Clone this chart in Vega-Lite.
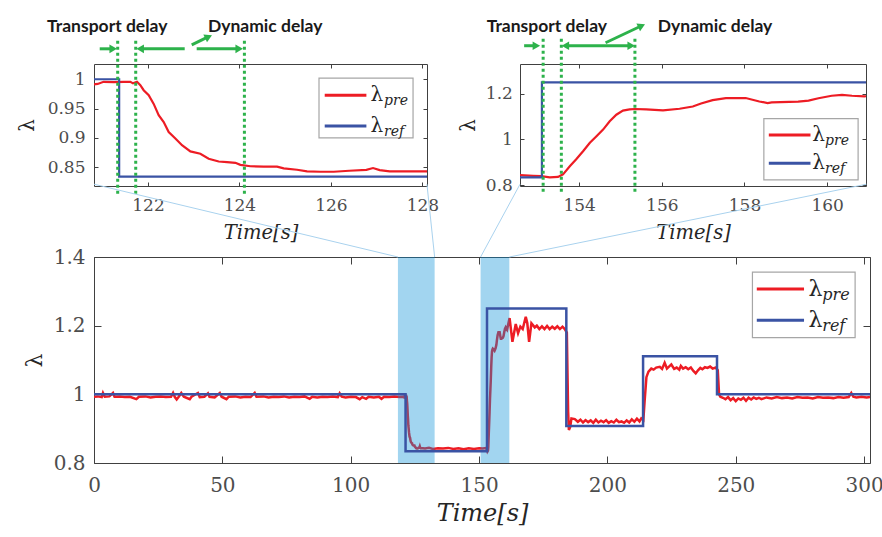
{
  "$schema": "https://vega.github.io/schema/vega-lite/v6.json",
  "background": "white",
  "padding": {"left": 16, "top": 17, "right": 2, "bottom": 2},
  "config": {
    "view": {"stroke": "#404040", "strokeWidth": 1},
    "axis": {
      "domain": false, "grid": false, "zindex": 1,
      "labelFlush": false, "labelOverlap": false,
      "tickColor": "#404040", "tickWidth": 1,
      "labelColor": "#4d4d4d", "labelFont": "DejaVu Serif", "labelFontWeight": "normal",
      "titleFont": "DejaVu Serif", "titleFontWeight": "normal", "titleColor": "#262626"
    }
  },
  "datasets": {
    "pre": [
      {"t":0,"v":0.993},{"t":1.5,"v":0.994},{"t":3,"v":0.992},{"t":3.5,"v":1.004},{"t":4.2,"v":0.993},{"t":6,"v":0.994},{"t":7.4,"v":1.004},{"t":8,"v":0.993},{"t":10,"v":0.994},{"t":12,"v":0.992},{"t":14,"v":0.993},{"t":16.5,"v":0.986},{"t":17.5,"v":0.993},{"t":20,"v":0.994},{"t":22,"v":0.991},{"t":24,"v":0.993},{"t":26,"v":0.994},{"t":28,"v":0.992},{"t":30,"v":0.993},{"t":30.8,"v":1.004},{"t":31.5,"v":0.992},{"t":32.2,"v":0.985},{"t":33,"v":0.993},{"t":34,"v":1.004},{"t":35,"v":0.993},{"t":37.3,"v":0.986},{"t":38,"v":0.993},{"t":40.5,"v":1.004},{"t":41.2,"v":0.992},{"t":43,"v":0.993},{"t":44.4,"v":1.003},{"t":45,"v":0.993},{"t":47,"v":0.991},{"t":49,"v":1.004},{"t":49.7,"v":0.993},{"t":51.6,"v":0.986},{"t":52.5,"v":0.993},{"t":55,"v":0.994},{"t":57,"v":0.991},{"t":59,"v":0.993},{"t":61,"v":0.992},{"t":62.6,"v":1.004},{"t":63.3,"v":0.993},{"t":66,"v":0.994},{"t":68,"v":0.991},{"t":70,"v":0.993},{"t":72,"v":0.992},{"t":74,"v":0.994},{"t":76,"v":0.991},{"t":78,"v":0.993},{"t":80,"v":0.992},{"t":82,"v":0.994},{"t":84,"v":0.987},{"t":85,"v":0.993},{"t":87,"v":0.991},{"t":89,"v":0.993},{"t":91,"v":0.992},{"t":93,"v":0.994},{"t":95,"v":0.992},{"t":95.7,"v":1.003},{"t":96.5,"v":0.993},{"t":98,"v":0.991},{"t":100,"v":0.993},{"t":102,"v":0.992},{"t":103.5,"v":0.986},{"t":104.5,"v":0.992},{"t":106,"v":0.987},{"t":107,"v":0.993},{"t":109,"v":0.991},{"t":111,"v":0.993},{"t":112,"v":0.987},{"t":113,"v":0.993},{"t":115,"v":0.992},{"t":117,"v":0.994},{"t":119,"v":0.992},{"t":120.2,"v":0.993},
      {"t":120.813,"v":0.991},{"t":120.9,"v":0.992},{"t":121.03,"v":0.9956},{"t":121.25,"v":0.9952},{"t":121.47,"v":0.9956},{"t":121.615,"v":0.9956},{"t":121.673,"v":0.993},{"t":121.76,"v":0.9956},{"t":121.833,"v":0.990},{"t":121.906,"v":0.9813},{"t":122.016,"v":0.9727},{"t":122.125,"v":0.958},{"t":122.234,"v":0.9387},{"t":122.344,"v":0.927},{"t":122.453,"v":0.910},{"t":122.599,"v":0.899},{"t":122.744,"v":0.8875},{"t":122.927,"v":0.877},{"t":123.145,"v":0.873},{"t":123.327,"v":0.8644},{"t":123.546,"v":0.8598},{"t":123.728,"v":0.8587},{"t":123.911,"v":0.8575},{"t":124.02,"v":0.854},{"t":124.239,"v":0.8517},{"t":124.53,"v":0.8512},{"t":124.822,"v":0.851},{"t":124.967,"v":0.848},{"t":125.259,"v":0.8457},{"t":125.478,"v":0.843},{"t":125.769,"v":0.8423},{"t":126.061,"v":0.8423},{"t":126.4,"v":0.844},{"t":126.775,"v":0.8455},{"t":126.92,"v":0.8486},{"t":127.066,"v":0.845},{"t":127.285,"v":0.843},{"t":128.1,"v":0.843},
      {"t":129,"v":0.842},{"t":130.5,"v":0.844},{"t":132,"v":0.841},{"t":134,"v":0.843},{"t":136,"v":0.842},{"t":138,"v":0.844},{"t":140,"v":0.841},{"t":142,"v":0.843},{"t":144,"v":0.84},{"t":146,"v":0.843},{"t":148,"v":0.841},{"t":150,"v":0.843},{"t":151.5,"v":0.842},
      {"t":152.57,"v":0.8435},{"t":152.89,"v":0.8406},{"t":153.08,"v":0.839},{"t":153.29,"v":0.8336},{"t":153.49,"v":0.836},{"t":153.61,"v":0.847},{"t":153.78,"v":0.8837},{"t":153.93,"v":0.913},{"t":154.1,"v":0.949},{"t":154.26,"v":0.985},{"t":154.42,"v":1.014},{"t":154.58,"v":1.043},{"t":154.74,"v":1.079},{"t":154.9,"v":1.108},{"t":155.06,"v":1.126},{"t":155.22,"v":1.131},{"t":155.35,"v":1.133},{"t":155.62,"v":1.131},{"t":156.03,"v":1.127},{"t":156.43,"v":1.134},{"t":156.75,"v":1.144},{"t":156.95,"v":1.157},{"t":157.23,"v":1.172},{"t":157.55,"v":1.181},{"t":158.03,"v":1.181},{"t":158.36,"v":1.166},{"t":158.56,"v":1.159},{"t":158.66,"v":1.162},{"t":159.3,"v":1.165},{"t":159.55,"v":1.17},{"t":159.79,"v":1.18},{"t":160.11,"v":1.191},{"t":160.36,"v":1.195},{"t":160.6,"v":1.191},{"t":160.9,"v":1.188},
      {"t":161.9,"v":1.222},{"t":163,"v":1.153},{"t":164.3,"v":1.205},{"t":165.2,"v":1.178},{"t":166.1,"v":1.197},{"t":167,"v":1.19},{"t":168.2,"v":1.226},{"t":168.8,"v":1.207},{"t":169.5,"v":1.153},{"t":170.4,"v":1.207},{"t":171.7,"v":1.195},{"t":172.5,"v":1.2},{"t":173.5,"v":1.19},{"t":174.5,"v":1.198},{"t":175.5,"v":1.19},{"t":176.5,"v":1.199},{"t":177.5,"v":1.19},{"t":178.5,"v":1.197},{"t":179.5,"v":1.191},{"t":180.5,"v":1.198},{"t":181.5,"v":1.19},{"t":182.5,"v":1.197},{"t":183.4,"v":1.19},{"t":184.2,"v":1.18},{"t":184.7,"v":0.95},{"t":185,"v":0.896},{"t":185.5,"v":0.905},{"t":186,"v":0.93},{"t":187.3,"v":0.928},{"t":188.5,"v":0.92},{"t":189.5,"v":0.926},{"t":190.5,"v":0.918},{"t":191.5,"v":0.925},{"t":192.5,"v":0.919},{"t":193.5,"v":0.924},{"t":194.5,"v":0.917},{"t":195.5,"v":0.926},{"t":196.5,"v":0.918},{"t":197.5,"v":0.923},{"t":198.5,"v":0.919},{"t":199.5,"v":0.925},{"t":200.5,"v":0.917},{"t":201.5,"v":0.922},{"t":202.5,"v":0.918},{"t":203.5,"v":0.926},{"t":204.5,"v":0.919},{"t":205.5,"v":0.921},{"t":206.5,"v":0.917},{"t":207.5,"v":0.924},{"t":208.5,"v":0.918},{"t":209.5,"v":0.927},{"t":210.5,"v":0.92},{"t":211.5,"v":0.929},{"t":212.5,"v":0.921},{"t":213.2,"v":0.93},{"t":214,"v":0.925},{"t":214.5,"v":0.98},{"t":215.2,"v":1.05},{"t":216,"v":1.066},{"t":217.1,"v":1.075},{"t":218,"v":1.072},{"t":219,"v":1.078},{"t":220.4,"v":1.08},{"t":221.3,"v":1.074},{"t":222.3,"v":1.092},{"t":223.2,"v":1.075},{"t":224.9,"v":1.087},{"t":226,"v":1.074},{"t":227,"v":1.078},{"t":228,"v":1.072},{"t":228.6,"v":1.083},{"t":229.5,"v":1.075},{"t":230.5,"v":1.079},{"t":231.5,"v":1.073},{"t":232.5,"v":1.078},{"t":233.5,"v":1.068},{"t":234.4,"v":1.061},{"t":235.3,"v":1.07},{"t":236.2,"v":1.077},{"t":237,"v":1.073},{"t":238,"v":1.079},{"t":239,"v":1.077},{"t":240,"v":1.081},{"t":241,"v":1.075},{"t":242.2,"v":1.078},{"t":243,"v":1.07},{"t":243.5,"v":1.0},
      {"t":244,"v":0.993},{"t":245,"v":0.99},{"t":246,"v":0.986},{"t":247,"v":0.992},{"t":248,"v":0.983},{"t":249,"v":0.989},{"t":250,"v":0.98},{"t":251,"v":0.988},{"t":252,"v":0.984},{"t":253,"v":0.99},{"t":254,"v":0.981},{"t":255,"v":0.99},{"t":256,"v":0.985},{"t":257,"v":0.991},{"t":258,"v":0.987},{"t":259,"v":0.99},{"t":260,"v":0.986},{"t":262,"v":0.991},{"t":264,"v":0.988},{"t":266,"v":0.992},{"t":268,"v":0.989},{"t":270,"v":0.991},{"t":272,"v":0.988},{"t":274,"v":0.992},{"t":276,"v":0.99},{"t":278,"v":0.991},{"t":280,"v":0.988},{"t":282,"v":0.992},{"t":284,"v":0.99},{"t":286,"v":0.991},{"t":288,"v":0.989},{"t":290,"v":0.992},{"t":292,"v":0.99},{"t":294,"v":0.992},{"t":295,"v":1.004},{"t":295.8,"v":0.993},{"t":297,"v":0.991},{"t":299,"v":0.993},{"t":301,"v":0.991},{"t":302.3,"v":0.992}
    ],
    "ref": [
      {"t":0,"v":1.0},{"t":121.37,"v":0.834},{"t":153.1,"v":1.25},{"t":184,"v":0.908},{"t":213.9,"v":1.111},{"t":242.7,"v":1.0},{"t":302.3,"v":1.0}
    ]
  },
  "bounds": "flush",
  "spacing": 193,
  "vconcat": [
    {
      "bounds": "flush",
      "spacing": 93,
      "hconcat": [
        {
          "width": 333, "height": 122,
          "resolve": {"axis": {"x": "independent", "y": "independent"}},
          "layer": [
            {
              "data": {"name": "pre"},
              "mark": {"type": "line", "clip": true, "color": "#ed1c24", "strokeWidth": 2.2},
              "encoding": {
                "x": {"field": "t", "type": "quantitative", "scale": {"domain": [120.82, 128.1], "nice": false, "zero": false}, "axis": {"orient": "top", "values": [122, 124, 126, 128], "labels": false, "title": null, "tickSize": -4}},
                "y": {"field": "v", "type": "quantitative", "scale": {"domain": [0.818, 1.026], "nice": false, "zero": false}, "axis": {"orient": "right", "values": [0.85, 0.9, 0.95, 1], "labels": false, "title": null, "tickSize": -4}}
              }
            },
            {
              "data": {"name": "ref"},
              "mark": {"type": "line", "interpolate": "step-after", "clip": true, "color": "#3a53a4", "strokeWidth": 2.2},
              "encoding": {
                "x": {"field": "t", "type": "quantitative", "scale": {"domain": [120.82, 128.1], "nice": false, "zero": false}, "axis": {"orient": "bottom", "values": [122, 124, 126, 128], "format": ".0f", "tickSize": -4, "labelPadding": 15.4, "labelFontSize": 17, "title": "Time[s]", "titleFontSize": 19.5, "titleFontStyle": "italic", "titlePadding": 10}},
                "y": {"field": "v", "type": "quantitative", "scale": {"domain": [0.818, 1.026], "nice": false, "zero": false}, "axis": {"orient": "left", "values": [0.85, 0.9, 0.95, 1], "format": "~g", "tickSize": -4, "labelPadding": 13, "labelFontSize": 17, "title": "λ", "titleFontSize": 20, "titlePadding": 10}}
              }
            },
            {
              "data": {"values": [{"t": 121.338}, {"t": 121.732}, {"t": 124.108}]},
              "mark": {"type": "rule", "color": "#2db24b", "strokeWidth": 3, "strokeDash": [3, 3]},
              "encoding": {
                "x": {"field": "t", "type": "quantitative", "scale": {"domain": [120.82, 128.1], "nice": false, "zero": false}, "axis": null},
                "y": {"datum": 1.0655, "type": "quantitative", "scale": {"domain": [0.818, 1.026], "nice": false, "zero": false}, "axis": null},
                "y2": {"datum": 0.8027}
              }
            },
            {
              "data": {"values": [{}]},
              "mark": {"type": "rule", "color": "#2db24b", "strokeWidth": 3},
              "encoding": {
                "x": {"datum": 120.945, "type": "quantitative", "scale": {"domain": [120.82, 128.1], "nice": false, "zero": false}, "axis": null},
                "x2": {"datum": 121.24},
                "y": {"datum": 1.0519, "type": "quantitative", "scale": {"domain": [0.818, 1.026], "nice": false, "zero": false}, "axis": null}
              }
            },
            {
              "data": {"values": [{}]},
              "mark": {"type": "rule", "color": "#2db24b", "strokeWidth": 3},
              "encoding": {
                "x": {"datum": 121.83, "type": "quantitative", "scale": {"domain": [120.82, 128.1], "nice": false, "zero": false}, "axis": null},
                "x2": {"datum": 122.803},
                "y": {"datum": 1.0519, "type": "quantitative", "scale": {"domain": [0.818, 1.026], "nice": false, "zero": false}, "axis": null}
              }
            },
            {
              "data": {"values": [{}]},
              "mark": {"type": "rule", "color": "#2db24b", "strokeWidth": 3},
              "encoding": {
                "x": {"datum": 123.065, "type": "quantitative", "scale": {"domain": [120.82, 128.1], "nice": false, "zero": false}, "axis": null},
                "x2": {"datum": 123.994},
                "y": {"datum": 1.0519, "type": "quantitative", "scale": {"domain": [0.818, 1.026], "nice": false, "zero": false}, "axis": null}
              }
            },
            {
              "data": {"values": [{}]},
              "mark": {"type": "rule", "color": "#2db24b", "strokeWidth": 3},
              "encoding": {
                "x": {"datum": 122.956, "type": "quantitative", "scale": {"domain": [120.82, 128.1], "nice": false, "zero": false}, "axis": null},
                "x2": {"datum": 123.325},
                "y": {"datum": 1.0587, "type": "quantitative", "scale": {"domain": [0.818, 1.026], "nice": false, "zero": false}, "axis": null},
                "y2": {"datum": 1.0725}
              }
            },
            {
              "data": {"values": [{}]},
              "mark": {"type": "point", "shape": "triangle-right", "filled": true, "opacity": 1, "size": 75, "color": "#2db24b"},
              "encoding": {
                "x": {"datum": 121.24, "type": "quantitative", "scale": {"domain": [120.82, 128.1], "nice": false, "zero": false}, "axis": null},
                "y": {"datum": 1.0519, "type": "quantitative", "scale": {"domain": [0.818, 1.026], "nice": false, "zero": false}, "axis": null}
              }
            },
            {
              "data": {"values": [{}]},
              "mark": {"type": "point", "shape": "triangle-left", "filled": true, "opacity": 1, "size": 75, "color": "#2db24b"},
              "encoding": {
                "x": {"datum": 121.83, "type": "quantitative", "scale": {"domain": [120.82, 128.1], "nice": false, "zero": false}, "axis": null},
                "y": {"datum": 1.0519, "type": "quantitative", "scale": {"domain": [0.818, 1.026], "nice": false, "zero": false}, "axis": null}
              }
            },
            {
              "data": {"values": [{}]},
              "mark": {"type": "point", "shape": "triangle-right", "filled": true, "opacity": 1, "size": 75, "color": "#2db24b"},
              "encoding": {
                "x": {"datum": 123.994, "type": "quantitative", "scale": {"domain": [120.82, 128.1], "nice": false, "zero": false}, "axis": null},
                "y": {"datum": 1.0519, "type": "quantitative", "scale": {"domain": [0.818, 1.026], "nice": false, "zero": false}, "axis": null}
              }
            },
            {
              "data": {"values": [{}]},
              "mark": {"type": "point", "shape": "triangle-right", "angle": 335, "filled": true, "opacity": 1, "size": 75, "color": "#2db24b"},
              "encoding": {
                "x": {"datum": 123.325, "type": "quantitative", "scale": {"domain": [120.82, 128.1], "nice": false, "zero": false}, "axis": null},
                "y": {"datum": 1.0725, "type": "quantitative", "scale": {"domain": [0.818, 1.026], "nice": false, "zero": false}, "axis": null}
              }
            },
            {
              "data": {"values": [{}]},
              "mark": {"type": "text", "text": "Transport delay", "font": "Lato", "fontWeight": "bold", "fontSize": 17.5, "color": "#1a1a1a", "align": "center", "baseline": "alphabetic"},
              "encoding": {
                "x": {"datum": 121.109, "type": "quantitative", "scale": {"domain": [120.82, 128.1], "nice": false, "zero": false}, "axis": null},
                "y": {"datum": 1.0812, "type": "quantitative", "scale": {"domain": [0.818, 1.026], "nice": false, "zero": false}, "axis": null}
              }
            },
            {
              "data": {"values": [{}]},
              "mark": {"type": "text", "text": "Dynamic delay", "font": "Lato", "fontWeight": "bold", "fontSize": 17.5, "color": "#1a1a1a", "align": "center", "baseline": "alphabetic"},
              "encoding": {
                "x": {"datum": 124.563, "type": "quantitative", "scale": {"domain": [120.82, 128.1], "nice": false, "zero": false}, "axis": null},
                "y": {"datum": 1.0812, "type": "quantitative", "scale": {"domain": [0.818, 1.026], "nice": false, "zero": false}, "axis": null}
              }
            },
            {
              "data": {"values": [{}]},
              "mark": {"type": "rect", "fill": "white", "stroke": "#a6a6a6", "strokeWidth": 1.2},
              "encoding": {
                "x": {"datum": 125.739, "type": "quantitative", "scale": {"domain": [120.82, 128.1], "nice": false, "zero": false}, "axis": null},
                "x2": {"datum": 127.795},
                "y": {"datum": 1.0019, "type": "quantitative", "scale": {"domain": [0.818, 1.026], "nice": false, "zero": false}, "axis": null},
                "y2": {"datum": 0.9}
              }
            },
            {
              "data": {"values": [{}]},
              "mark": {"type": "rule", "color": "#ed1c24", "strokeWidth": 3},
              "encoding": {
                "x": {"datum": 125.864, "type": "quantitative", "scale": {"domain": [120.82, 128.1], "nice": false, "zero": false}, "axis": null},
                "x2": {"datum": 126.775},
                "y": {"datum": 0.9729, "type": "quantitative", "scale": {"domain": [0.818, 1.026], "nice": false, "zero": false}, "axis": null}
              }
            },
            {
              "data": {"values": [{}]},
              "mark": {"type": "rule", "color": "#3a53a4", "strokeWidth": 3},
              "encoding": {
                "x": {"datum": 125.864, "type": "quantitative", "scale": {"domain": [120.82, 128.1], "nice": false, "zero": false}, "axis": null},
                "x2": {"datum": 126.775},
                "y": {"datum": 0.9205, "type": "quantitative", "scale": {"domain": [0.818, 1.026], "nice": false, "zero": false}, "axis": null}
              }
            },
            {
              "data": {"values": [{"y": 0.9729}, {"y": 0.9205}]},
              "mark": {"type": "text", "text": "λ", "font": "DejaVu Serif", "fontSize": 20, "color": "#262626", "align": "left", "baseline": "middle"},
              "encoding": {
                "x": {"datum": 126.863, "type": "quantitative", "scale": {"domain": [120.82, 128.1], "nice": false, "zero": false}, "axis": null},
                "y": {"field": "y", "type": "quantitative", "scale": {"domain": [0.818, 1.026], "nice": false, "zero": false}, "axis": null}
              }
            },
            {
              "data": {"values": [{"y": 0.9729, "s": "pre"}, {"y": 0.9205, "s": "ref"}]},
              "mark": {"type": "text", "font": "DejaVu Serif", "fontStyle": "italic", "fontSize": 14, "color": "#262626", "align": "left", "baseline": "alphabetic", "dy": 10},
              "encoding": {
                "x": {"datum": 127.16, "type": "quantitative", "scale": {"domain": [120.82, 128.1], "nice": false, "zero": false}, "axis": null},
                "y": {"field": "y", "type": "quantitative", "scale": {"domain": [0.818, 1.026], "nice": false, "zero": false}, "axis": null},
                "text": {"field": "s"}
              }
            }
          ]
        },
        {
          "width": 346, "height": 122,
          "resolve": {"axis": {"x": "independent", "y": "independent"}},
          "layer": [
            {
              "data": {"name": "pre"},
              "mark": {"type": "line", "clip": true, "color": "#ed1c24", "strokeWidth": 2.2},
              "encoding": {
                "x": {"field": "t", "type": "quantitative", "scale": {"domain": [152.57, 160.94], "nice": false, "zero": false}, "axis": {"orient": "top", "values": [154, 156, 158, 160], "labels": false, "title": null, "tickSize": -4}},
                "y": {"field": "v", "type": "quantitative", "scale": {"domain": [0.796, 1.33], "nice": false, "zero": false}, "axis": {"orient": "right", "values": [0.8, 1, 1.2], "labels": false, "title": null, "tickSize": -4}}
              }
            },
            {
              "data": {"name": "ref"},
              "mark": {"type": "line", "interpolate": "step-after", "clip": true, "color": "#3a53a4", "strokeWidth": 2.2},
              "encoding": {
                "x": {"field": "t", "type": "quantitative", "scale": {"domain": [152.57, 160.94], "nice": false, "zero": false}, "axis": {"orient": "bottom", "values": [154, 156, 158, 160], "format": ".0f", "tickSize": -4, "labelPadding": 15.4, "labelFontSize": 17, "title": "Time[s]", "titleFontSize": 19.5, "titleFontStyle": "italic", "titlePadding": 10}},
                "y": {"field": "v", "type": "quantitative", "scale": {"domain": [0.796, 1.33], "nice": false, "zero": false}, "axis": {"orient": "left", "values": [0.8, 1, 1.2], "format": "~g", "tickSize": -4, "labelPadding": 11.6, "labelFontSize": 17, "title": "λ", "titleFontSize": 20, "titlePadding": 7}}
              }
            },
            {
              "data": {"values": [{"t": 153.13}, {"t": 153.57}, {"t": 155.35}]},
              "mark": {"type": "rule", "color": "#2db24b", "strokeWidth": 3, "strokeDash": [3, 3]},
              "encoding": {
                "x": {"field": "t", "type": "quantitative", "scale": {"domain": [152.57, 160.94], "nice": false, "zero": false}, "axis": null},
                "y": {"datum": 1.4404, "type": "quantitative", "scale": {"domain": [0.796, 1.33], "nice": false, "zero": false}, "axis": null},
                "y2": {"datum": 0.7622}
              }
            },
            {
              "data": {"values": [{}]},
              "mark": {"type": "rule", "color": "#2db24b", "strokeWidth": 3},
              "encoding": {
                "x": {"datum": 152.67, "type": "quantitative", "scale": {"domain": [152.57, 160.94], "nice": false, "zero": false}, "axis": null},
                "x2": {"datum": 152.966},
                "y": {"datum": 1.41, "type": "quantitative", "scale": {"domain": [0.796, 1.33], "nice": false, "zero": false}, "axis": null}
              }
            },
            {
              "data": {"values": [{}]},
              "mark": {"type": "rule", "color": "#2db24b", "strokeWidth": 3},
              "encoding": {
                "x": {"datum": 153.667, "type": "quantitative", "scale": {"domain": [152.57, 160.94], "nice": false, "zero": false}, "axis": null},
                "x2": {"datum": 155.26},
                "y": {"datum": 1.41, "type": "quantitative", "scale": {"domain": [0.796, 1.33], "nice": false, "zero": false}, "axis": null}
              }
            },
            {
              "data": {"values": [{}]},
              "mark": {"type": "rule", "color": "#2db24b", "strokeWidth": 3},
              "encoding": {
                "x": {"datum": 154.64, "type": "quantitative", "scale": {"domain": [152.57, 160.94], "nice": false, "zero": false}, "axis": null},
                "x2": {"datum": 155.512},
                "y": {"datum": 1.423, "type": "quantitative", "scale": {"domain": [0.796, 1.33], "nice": false, "zero": false}, "axis": null},
                "y2": {"datum": 1.4974}
              }
            },
            {
              "data": {"values": [{}]},
              "mark": {"type": "point", "shape": "triangle-right", "filled": true, "opacity": 1, "size": 75, "color": "#2db24b"},
              "encoding": {
                "x": {"datum": 152.966, "type": "quantitative", "scale": {"domain": [152.57, 160.94], "nice": false, "zero": false}, "axis": null},
                "y": {"datum": 1.41, "type": "quantitative", "scale": {"domain": [0.796, 1.33], "nice": false, "zero": false}, "axis": null}
              }
            },
            {
              "data": {"values": [{}]},
              "mark": {"type": "point", "shape": "triangle-left", "filled": true, "opacity": 1, "size": 75, "color": "#2db24b"},
              "encoding": {
                "x": {"datum": 153.667, "type": "quantitative", "scale": {"domain": [152.57, 160.94], "nice": false, "zero": false}, "axis": null},
                "y": {"datum": 1.41, "type": "quantitative", "scale": {"domain": [0.796, 1.33], "nice": false, "zero": false}, "axis": null}
              }
            },
            {
              "data": {"values": [{}]},
              "mark": {"type": "point", "shape": "triangle-right", "filled": true, "opacity": 1, "size": 75, "color": "#2db24b"},
              "encoding": {
                "x": {"datum": 155.26, "type": "quantitative", "scale": {"domain": [152.57, 160.94], "nice": false, "zero": false}, "axis": null},
                "y": {"datum": 1.41, "type": "quantitative", "scale": {"domain": [0.796, 1.33], "nice": false, "zero": false}, "axis": null}
              }
            },
            {
              "data": {"values": [{}]},
              "mark": {"type": "point", "shape": "triangle-right", "angle": 335, "filled": true, "opacity": 1, "size": 75, "color": "#2db24b"},
              "encoding": {
                "x": {"datum": 155.512, "type": "quantitative", "scale": {"domain": [152.57, 160.94], "nice": false, "zero": false}, "axis": null},
                "y": {"datum": 1.4974, "type": "quantitative", "scale": {"domain": [0.796, 1.33], "nice": false, "zero": false}, "axis": null}
              }
            },
            {
              "data": {"values": [{}]},
              "mark": {"type": "text", "text": "Transport delay", "font": "Lato", "fontWeight": "bold", "fontSize": 17.5, "color": "#1a1a1a", "align": "center", "baseline": "alphabetic"},
              "encoding": {
                "x": {"datum": 153.22, "type": "quantitative", "scale": {"domain": [152.57, 160.94], "nice": false, "zero": false}, "axis": null},
                "y": {"datum": 1.4717, "type": "quantitative", "scale": {"domain": [0.796, 1.33], "nice": false, "zero": false}, "axis": null}
              }
            },
            {
              "data": {"values": [{}]},
              "mark": {"type": "text", "text": "Dynamic delay", "font": "Lato", "fontWeight": "bold", "fontSize": 17.5, "color": "#1a1a1a", "align": "center", "baseline": "alphabetic"},
              "encoding": {
                "x": {"datum": 157.29, "type": "quantitative", "scale": {"domain": [152.57, 160.94], "nice": false, "zero": false}, "axis": null},
                "y": {"datum": 1.4717, "type": "quantitative", "scale": {"domain": [0.796, 1.33], "nice": false, "zero": false}, "axis": null}
              }
            },
            {
              "data": {"values": [{}]},
              "mark": {"type": "rect", "fill": "white", "stroke": "#a6a6a6", "strokeWidth": 1.2},
              "encoding": {
                "x": {"datum": 158.469, "type": "quantitative", "scale": {"domain": [152.57, 160.94], "nice": false, "zero": false}, "axis": null},
                "x2": {"datum": 160.749},
                "y": {"datum": 1.0913, "type": "quantitative", "scale": {"domain": [0.796, 1.33], "nice": false, "zero": false}, "axis": null},
                "y2": {"datum": 0.823}
              }
            },
            {
              "data": {"values": [{}]},
              "mark": {"type": "rule", "color": "#ed1c24", "strokeWidth": 3},
              "encoding": {
                "x": {"datum": 158.589, "type": "quantitative", "scale": {"domain": [152.57, 160.94], "nice": false, "zero": false}, "axis": null},
                "x2": {"datum": 159.597},
                "y": {"datum": 1.0187, "type": "quantitative", "scale": {"domain": [0.796, 1.33], "nice": false, "zero": false}, "axis": null}
              }
            },
            {
              "data": {"values": [{}]},
              "mark": {"type": "rule", "color": "#3a53a4", "strokeWidth": 3},
              "encoding": {
                "x": {"datum": 158.589, "type": "quantitative", "scale": {"domain": [152.57, 160.94], "nice": false, "zero": false}, "axis": null},
                "x2": {"datum": 159.597},
                "y": {"datum": 0.8957, "type": "quantitative", "scale": {"domain": [0.796, 1.33], "nice": false, "zero": false}, "axis": null}
              }
            },
            {
              "data": {"values": [{"y": 1.0187}, {"y": 0.8957}]},
              "mark": {"type": "text", "text": "λ", "font": "DejaVu Serif", "fontSize": 20, "color": "#262626", "align": "left", "baseline": "middle"},
              "encoding": {
                "x": {"datum": 159.638, "type": "quantitative", "scale": {"domain": [152.57, 160.94], "nice": false, "zero": false}, "axis": null},
                "y": {"field": "y", "type": "quantitative", "scale": {"domain": [0.796, 1.33], "nice": false, "zero": false}, "axis": null}
              }
            },
            {
              "data": {"values": [{"y": 1.0187, "s": "pre"}, {"y": 0.8957, "s": "ref"}]},
              "mark": {"type": "text", "font": "DejaVu Serif", "fontStyle": "italic", "fontSize": 14, "color": "#262626", "align": "left", "baseline": "alphabetic", "dy": 10},
              "encoding": {
                "x": {"datum": 159.95, "type": "quantitative", "scale": {"domain": [152.57, 160.94], "nice": false, "zero": false}, "axis": null},
                "y": {"field": "y", "type": "quantitative", "scale": {"domain": [0.796, 1.33], "nice": false, "zero": false}, "axis": null},
                "text": {"field": "s"}
              }
            }
          ]
        }
      ]
    },
    {
      "width": 776, "height": 206,
      "resolve": {"axis": {"x": "independent", "y": "independent"}},
      "layer": [
        {
          "data": {"name": "pre"},
          "mark": {"type": "line", "clip": true, "color": "#ed1c24", "strokeWidth": 2.5},
          "encoding": {
            "x": {"field": "t", "type": "quantitative", "scale": {"domain": [0, 302.3], "nice": false, "zero": false}, "axis": {"orient": "top", "values": [0, 50, 100, 150, 200, 250, 300], "labels": false, "title": null, "tickSize": -7}},
            "y": {"field": "v", "type": "quantitative", "scale": {"domain": [0.8, 1.4], "nice": false, "zero": false}, "axis": {"orient": "right", "values": [0.8, 1, 1.2, 1.4], "labels": false, "title": null, "tickSize": -7}}
          }
        },
        {
          "data": {"values": [{"a": 118.4, "b": 132.7}, {"a": 150.6, "b": 161.8}]},
          "mark": {"type": "rect", "color": "#0a90d8", "opacity": 0.38},
          "encoding": {
            "x": {"field": "a", "type": "quantitative", "scale": {"domain": [0, 302.3], "nice": false, "zero": false}, "axis": null},
            "x2": {"field": "b"},
            "y": {"datum": 0.8, "type": "quantitative", "scale": {"domain": [0.8, 1.4], "nice": false, "zero": false}, "axis": null},
            "y2": {"datum": 1.4}
          }
        },
        {
          "data": {"name": "ref"},
          "mark": {"type": "line", "interpolate": "step-after", "clip": true, "color": "#3a53a4", "strokeWidth": 2.5},
          "encoding": {
            "x": {"field": "t", "type": "quantitative", "scale": {"domain": [0, 302.3], "nice": false, "zero": false}, "axis": {"orient": "bottom", "values": [0, 50, 100, 150, 200, 250, 300], "format": ".0f", "tickSize": -7, "labelPadding": 19, "labelFontSize": 20, "title": "Time[s]", "titleFontSize": 24, "titleFontStyle": "italic", "titlePadding": 6}},
            "y": {"field": "v", "type": "quantitative", "scale": {"domain": [0.8, 1.4], "nice": false, "zero": false}, "axis": {"orient": "left", "values": [0.8, 1, 1.2, 1.4], "format": "~g", "tickSize": -7, "labelPadding": 16, "labelFontSize": 20, "title": "λ", "titleFontSize": 22, "titlePadding": 7}}
          }
        },
        {
          "data": {"values": [
            {"x1": 0, "y1": 1.612, "x2": 118.4, "y2": 1.4},
            {"x1": 129.7, "y1": 1.612, "x2": 132.7, "y2": 1.4},
            {"x1": 165.96, "y1": 1.612, "x2": 150.6, "y2": 1.4},
            {"x1": 300.9, "y1": 1.612, "x2": 161.8, "y2": 1.4}
          ]},
          "mark": {"type": "rule", "color": "#a9d2ee", "strokeWidth": 1},
          "encoding": {
            "x": {"field": "x1", "type": "quantitative", "scale": {"domain": [0, 302.3], "nice": false, "zero": false}, "axis": null},
            "x2": {"field": "x2"},
            "y": {"field": "y1", "type": "quantitative", "scale": {"domain": [0.8, 1.4], "nice": false, "zero": false}, "axis": null},
            "y2": {"field": "y2"}
          }
        },
        {
          "data": {"values": [{}]},
          "mark": {"type": "rect", "fill": "white", "stroke": "#a6a6a6", "strokeWidth": 1.2},
          "encoding": {
            "x": {"datum": 256.5, "type": "quantitative", "scale": {"domain": [0, 302.3], "nice": false, "zero": false}, "axis": null},
            "x2": {"datum": 296.5},
            "y": {"datum": 1.3557, "type": "quantitative", "scale": {"domain": [0.8, 1.4], "nice": false, "zero": false}, "axis": null},
            "y2": {"datum": 1.165}
          }
        },
        {
          "data": {"values": [{}]},
          "mark": {"type": "rule", "color": "#ed1c24", "strokeWidth": 3},
          "encoding": {
            "x": {"datum": 258.2, "type": "quantitative", "scale": {"domain": [0, 302.3], "nice": false, "zero": false}, "axis": null},
            "x2": {"datum": 276.6},
            "y": {"datum": 1.307, "type": "quantitative", "scale": {"domain": [0.8, 1.4], "nice": false, "zero": false}, "axis": null}
          }
        },
        {
          "data": {"values": [{}]},
          "mark": {"type": "rule", "color": "#3a53a4", "strokeWidth": 3},
          "encoding": {
            "x": {"datum": 258.2, "type": "quantitative", "scale": {"domain": [0, 302.3], "nice": false, "zero": false}, "axis": null},
            "x2": {"datum": 276.6},
            "y": {"datum": 1.2157, "type": "quantitative", "scale": {"domain": [0.8, 1.4], "nice": false, "zero": false}, "axis": null}
          }
        },
        {
          "data": {"values": [{"y": 1.307}, {"y": 1.2157}]},
          "mark": {"type": "text", "text": "λ", "font": "DejaVu Serif", "fontSize": 22, "color": "#262626", "align": "left", "baseline": "middle"},
          "encoding": {
            "x": {"datum": 278.3, "type": "quantitative", "scale": {"domain": [0, 302.3], "nice": false, "zero": false}, "axis": null},
            "y": {"field": "y", "type": "quantitative", "scale": {"domain": [0.8, 1.4], "nice": false, "zero": false}, "axis": null}
          }
        },
        {
          "data": {"values": [{"y": 1.307, "s": "pre"}, {"y": 1.2157, "s": "ref"}]},
          "mark": {"type": "text", "font": "DejaVu Serif", "fontStyle": "italic", "fontSize": 16, "color": "#262626", "align": "left", "baseline": "alphabetic", "dy": 11},
          "encoding": {
            "x": {"datum": 283.7, "type": "quantitative", "scale": {"domain": [0, 302.3], "nice": false, "zero": false}, "axis": null},
            "y": {"field": "y", "type": "quantitative", "scale": {"domain": [0.8, 1.4], "nice": false, "zero": false}, "axis": null},
            "text": {"field": "s"}
          }
        }
      ]
    }
  ]
}
